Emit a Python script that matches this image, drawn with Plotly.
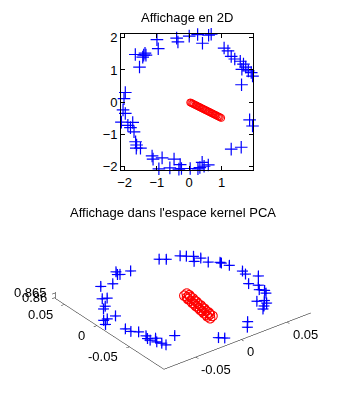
import plotly.graph_objects as go

# ---------- 2D data ----------
blue2d_x = [-1.98, -2.02, -1.67, -1.54, -1.41, -1.37, -1.44, -1.34, -1.00, -0.96,
            -0.39, -0.35, 0.00, 0.26, 0.41, 0.60, 0.68, 1.08, 1.20, 1.30,
            1.41, 1.58, 1.68, 1.63, 1.75, 1.83, 1.92, 1.96, 1.62,
            -2.05, -1.98, -2.10, -1.90, -1.75, -1.82, -1.71, -1.66, -1.63, -1.64,
            -1.51, -1.15, -1.12, -0.84, -0.94, -0.60, -0.47, -0.28, -0.32, -0.24,
            0.03, 0.27, 0.33, 0.40, 0.46, 0.59, 1.30, 1.61, 1.87, 1.96]
blue2d_y = [0.30, 0.11, 1.48, 1.09, 1.46, 1.52, 1.40, 1.46, 1.94, 1.66,
            1.99, 1.87, 2.05, 2.10, 1.83, 2.08, 2.11, 1.68, 1.59, 1.42,
            1.34, 1.27, 1.18, 1.02, 1.09, 0.97, 0.92, 0.81, 0.54,
            -0.24, -0.35, -0.62, -0.72, -0.63, -0.79, -0.92, -1.23, -1.33, -1.43,
            -1.43, -1.67, -1.77, -1.73, -2.07, -2.04, -1.77, -1.94, -2.08, -2.06,
            -2.06, -2.07, -2.03, -1.87, -1.99, -1.95, -1.46, -1.40, -0.55, -0.74]
red2d_x = [0.03, 0.06, 0.09, 0.12, 0.15, 0.19, 0.22, 0.25, 0.29, 0.32,
           0.35, 0.39, 0.42, 0.45, 0.49, 0.52, 0.55, 0.59, 0.62, 0.65,
           0.69, 0.72, 0.75, 0.79, 0.82, 0.85, 0.89, 0.92, 0.95, 0.99]
red2d_y = [-0.01, -0.02, -0.04, -0.05, -0.07, -0.09, -0.10, -0.12, -0.14, -0.15,
           -0.17, -0.19, -0.20, -0.22, -0.24, -0.25, -0.27, -0.29, -0.30, -0.32,
           -0.34, -0.35, -0.37, -0.39, -0.40, -0.42, -0.44, -0.45, -0.47, -0.49]
ticks2d = [-2, -1, 0, 1, 2]

# ---------- 3D (kernel PCA) data ----------
blue3d_x = [0.023, 0.028, 0.041, 0.045, 0.050, 0.045, 0.053, 0.054, 0.062, 0.062, 0.065,
            -0.020, -0.022, -0.020, -0.009, -0.035, -0.046,
            -0.058, -0.054, -0.064, -0.068, -0.067, -0.076, -0.080, -0.083,
            -0.074, -0.073, -0.068, -0.067, -0.069, -0.069, -0.063, -0.066, -0.064, -0.063, -0.047,
            -0.019, -0.015, 0.018, 0.012,
            0.068, 0.067, 0.074, 0.059, 0.064, 0.060, 0.063, 0.061, 0.046, 0.052, 0.051, 0.046, 0.042]
blue3d_y = [0.056, 0.052, 0.049, 0.045, 0.041, 0.033, 0.034, 0.024, 0.017, 0.015, 0.007,
            0.062, 0.057, 0.056, 0.055, 0.046, 0.049,
            0.030, 0.028, 0.017, 0.014, -0.003, -0.003, -0.003, -0.010,
            -0.028, -0.035, -0.040, -0.050, -0.055, -0.059, -0.059, -0.065, -0.070, -0.075, -0.066,
            -0.094, -0.098, -0.087, -0.095,
            -0.009, -0.015, -0.025, -0.031, -0.039, -0.046, -0.050, -0.055, -0.062, -0.065, -0.070, -0.073, -0.077]
blue3d_z = [0.8646, 0.8645, 0.8647, 0.8646, 0.8644, 0.8645, 0.8646, 0.8645, 0.8644, 0.8645, 0.8646,
            0.8645, 0.8646, 0.8644, 0.8645, 0.8646, 0.8645,
            0.8644, 0.8645, 0.8646, 0.8645, 0.8644, 0.8646, 0.8645, 0.8644,
            0.8645, 0.8646, 0.8645, 0.8644, 0.8645, 0.8646, 0.8645, 0.8644, 0.8645, 0.8646, 0.8645,
            0.8645, 0.8644, 0.8646, 0.8645,
            0.8646, 0.8645, 0.8644, 0.8645, 0.8646, 0.8645, 0.8644, 0.8645, 0.8646, 0.8645, 0.8644, 0.8645, 0.8646]
red3d_x = [0.006, 0.006, 0.005, 0.005, 0.004, 0.004, 0.003, 0.003, 0.002, 0.002, 0.001, 0.001, 0.000, 0.000,
           0.002, 0.002, 0.001, 0.001, 0.000, 0.000, -0.001, -0.001, -0.002, -0.002, -0.003, -0.003, -0.004, -0.004]
red3d_y = [-0.010, -0.014, -0.017, -0.021, -0.025, -0.028, -0.032, -0.036, -0.040, -0.043, -0.047, -0.051, -0.054, -0.058,
           -0.012, -0.016, -0.019, -0.023, -0.027, -0.030, -0.034, -0.038, -0.042, -0.045, -0.049, -0.053, -0.056, -0.060]
red3d_z = [0.8640, 0.8641, 0.8640, 0.8641, 0.8640, 0.8641, 0.8640, 0.8641, 0.8640, 0.8641, 0.8640, 0.8641, 0.8640, 0.8641,
           0.8641, 0.8640, 0.8641, 0.8640, 0.8641, 0.8640, 0.8641, 0.8640, 0.8641, 0.8640, 0.8641, 0.8640, 0.8641, 0.8640]
ticks3d = [-0.05, 0, 0.05]
ticks3d_text = ["-0.05", "0", "0.05"]
ticks3d_z = [0.86, 0.865]
ticks3d_z_text = ["0.86", "0.865"]

X3_RANGE = [-0.085, 0.076]
Y3_RANGE = [-0.103, 0.064]
Z3_RANGE = [0.859, 0.866]

FONT = "Liberation Sans, Arial, sans-serif"
TFONT = dict(family=FONT, size=13, color="black")

fig = go.Figure()
fig.add_trace(go.Scatter(x=blue2d_x, y=blue2d_y, mode="markers", cliponaxis=False,
                         marker=dict(symbol="cross-thin", size=9, line=dict(color="#0000ff", width=1.2)),
                         xaxis="x", yaxis="y", showlegend=False))
fig.add_trace(go.Scatter(x=red2d_x, y=red2d_y, mode="markers", cliponaxis=False,
                         marker=dict(symbol="circle-open", size=7, color="#ff0000", line=dict(color="#ff0000", width=1)),
                         xaxis="x", yaxis="y", showlegend=False))
fig.add_trace(go.Scatter3d(x=blue3d_x, y=blue3d_y, z=blue3d_z, mode="markers",
                           marker=dict(symbol="cross", size=6, color="#0000ff"),
                           scene="scene", showlegend=False))
fig.add_trace(go.Scatter3d(x=red3d_x, y=red3d_y, z=red3d_z, mode="markers",
                           marker=dict(symbol="circle-open", size=6, color="#ff0000"),
                           scene="scene", showlegend=False))

ax2d = dict(showline=True, linecolor="black", linewidth=1, mirror="ticks", ticks="inside",
            ticklen=4, tickcolor="black", showgrid=False, zeroline=False, tickfont=TFONT)
fig.update_layout(
    width=338, height=399,
    margin=dict(l=0, r=0, t=0, b=0),
    paper_bgcolor="white", plot_bgcolor="white",
    xaxis=dict(domain=[118.5 / 338, 251.5 / 338], range=[-2.11, 1.96],
               tickvals=ticks2d, **ax2d),
    yaxis=dict(domain=[1 - 169.5 / 399, 1 - 30.5 / 399], range=[-2.11, 2.12],
               tickvals=ticks2d, **ax2d),
    annotations=[
        dict(text="Affichage en 2D", x=185 / 338, y=1 - 14 / 399, xref="paper", yref="paper",
             xanchor="center", yanchor="middle", showarrow=False, font=TFONT),
        dict(text="Affichage dans l'espace kernel PCA", x=171 / 338, y=1 - 213 / 399,
             xref="paper", yref="paper", xanchor="center", yanchor="middle", showarrow=False,
             font=TFONT),
    ],
)

# horizontal (MATLAB-like) tick labels for the 3D axes, anchored just inside the box edges
z_floor = Z3_RANGE[0] + 0.0002
y_front = Y3_RANGE[0] + 0.0005
x_left = X3_RANGE[0] + 0.0005
y_back = Y3_RANGE[1] - 0.0005
scene_ann = []
for v, t in zip(ticks3d, ticks3d_text):
    scene_ann.append(dict(x=v, y=y_front, z=z_floor, text=t, showarrow=False,
                          xanchor="left", yanchor="top", xshift=4, yshift=-3, font=TFONT))
    scene_ann.append(dict(x=x_left, y=v, z=z_floor, text=t, showarrow=False,
                          xanchor="right", yanchor="top", xshift=-10, yshift=-1, font=TFONT))
for v, t in zip(ticks3d_z, ticks3d_z_text):
    scene_ann.append(dict(x=x_left, y=y_back, z=v, text=t, showarrow=False,
                          xanchor="right", yanchor="middle", xshift=-7, font=TFONT))

ax3d = dict(showbackground=False, showgrid=False, zeroline=False, showline=True,
            linecolor="black", linewidth=1, ticks="outside", ticklen=4, tickcolor="black",
            showspikes=False, title=dict(text=""), showticklabels=False)
fig.update_layout(scene=dict(
    domain=dict(x=[28 / 338, 334 / 338], y=[0, 1 - 210 / 399]),
    xaxis=dict(range=X3_RANGE, tickvals=ticks3d, **ax3d),
    yaxis=dict(range=Y3_RANGE, tickvals=ticks3d, **ax3d),
    zaxis=dict(range=Z3_RANGE, tickvals=ticks3d_z, **ax3d),
    aspectmode="manual",
    aspectratio=dict(x=2.0, y=1.93, z=0.08),
    camera=dict(projection=dict(type="orthographic"),
                eye=dict(x=-0.527 * 1.6, y=-0.687 * 1.6, z=0.5 * 1.6),
                up=dict(x=0, y=0, z=1), center=dict(x=0, y=0, z=0)),
    annotations=scene_ann,
))

fig.write_html("out.html", config={"displayModeBar": False})
